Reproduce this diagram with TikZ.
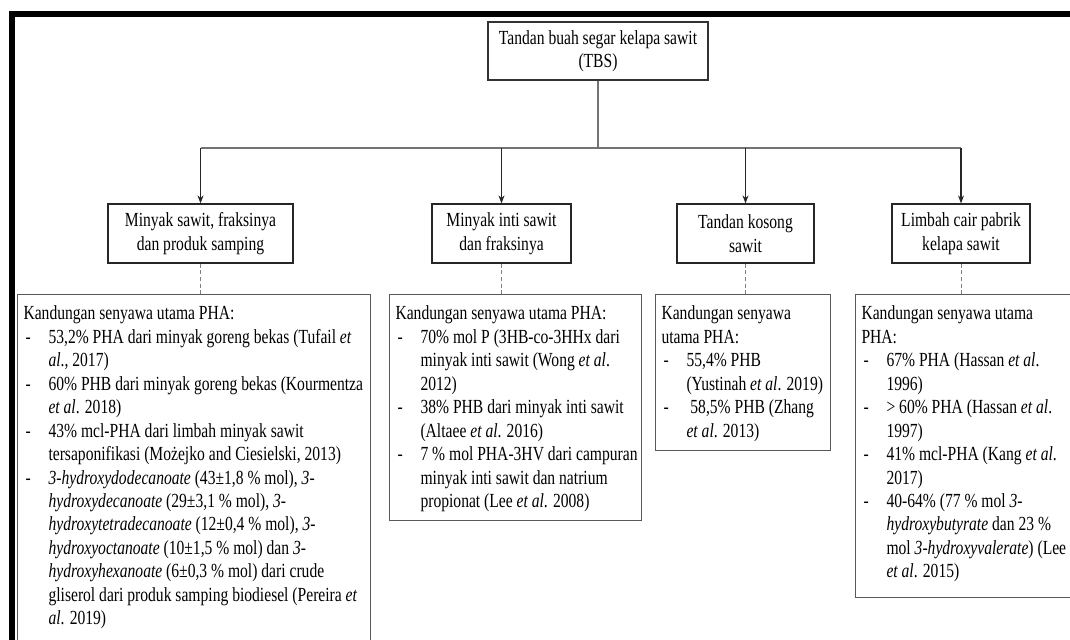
\documentclass[tikz,border=0pt]{standalone}
\usepackage{fontspec}
\setmainfont{Liberation Serif}[FakeStretch=0.78]
\usetikzlibrary{arrows.meta}
\newcommand{\bul}{\makebox[18.75pt][l]{\hspace{1.5pt}-}}
\newcommand{\cont}{\hspace*{18.75pt}}
\newcommand{\infotext}[3]{%
	\begin{minipage}[t][#2][t]{#1}%
	\raggedright\setlength{\leftskip}{4.5pt}\vspace*{8.5pt}%
	#3%
	\end{minipage}}
\tikzset{
	srcbox/.style={draw=black!80, line width=0.9pt, minimum width=165pt, minimum height=43.5pt, align=center, inner sep=2pt},
	catbox/.style={draw=black!85, line width=0.9pt, minimum height=44.25pt, align=center, inner sep=2pt},
	infobox/.style={draw=black!65, line width=0.8pt, inner sep=0pt, anchor=north west},
	link/.style={draw=black!55, line width=1.1pt},
	arrow/.style={draw=black!85, line width=0.8pt, -{Stealth[length=6pt,width=4.5pt]}},
	lead/.style={draw=black!50, line width=0.6pt, dash pattern=on 3pt off 2pt},
}
\begin{document}
\begin{tikzpicture}[x=0.75pt, y=-0.75pt, font=\fontsize{15pt}{17.6pt}\selectfont]
		\useasboundingbox (0,0) rectangle (1070,639);
		\clip (0,0) rectangle (1070,639);
		\fill[white] (0,0) rectangle (1070,639);
		\draw[line width=4.5pt, line join=miter] (12,645) -- (12,14) -- (1080,14);
		\node[srcbox] (tbs) at (598,51) {Tandan buah segar kelapa sawit\\(TBS)};
		\node[catbox, minimum width=138.75pt] (cat1) at (200.5,233.5) {Minyak sawit, fraksinya\\dan produk samping};
		\node[catbox, minimum width=104.25pt] (cat2) at (501.5,233.5) {Minyak inti sawit\\dan fraksinya};
		\node[catbox, minimum width=102.75pt] (cat3) at (745.5,233.5) {Tandan kosong\\sawit};
		\node[catbox, minimum width=103.5pt] (cat4) at (961,233.5) {Limbah cair pabrik\\kelapa sawit};
		\coordinate (hub) at (598,148);
		\draw[link] (tbs.south) -- (hub);
		\draw[link] (cat1.north |- hub) -- (cat4.north |- hub);
		\foreach \c in {cat1,cat2,cat3,cat4}
			\draw[arrow] (\c.north |- hub) -- (\c.north);
		\node[infobox] (info1) at (17,294) {\infotext{264.75pt}{270pt}{%
			Kandungan senyawa utama PHA:\\
			\bul 53,2\% PHA dari minyak goreng bekas (Tufail \textit{et}\\
			\cont\textit{al}., 2017)\\
			\bul 60\% PHB dari minyak goreng bekas (Kourmentza\\
			\cont\textit{et al}. 2018)\\
			\bul 43\% mcl-PHA dari limbah minyak sawit\\
			\cont tersaponifikasi (Możejko and Ciesielski, 2013)\\
			\bul\textit{3-hydroxydodecanoate} (43±1,8 \% mol), \textit{3-}\\
			\cont\textit{hydroxydecanoate} (29±3,1 \% mol), \textit{3-}\\
			\cont\textit{hydroxytetradecanoate} (12±0,4 \% mol), \textit{3-}\\
			\cont\textit{hydroxyoctanoate} (10±1,5 \% mol) dan \textit{3-}\\
			\cont\textit{hydroxyhexanoate} (6±0,3 \% mol) dari crude\\
			\cont gliserol dari produk samping biodiesel (Pereira \textit{et}\\
			\cont\textit{al}. 2019)}};
		\node[infobox] (info2) at (389,294) {\infotext{189pt}{169.5pt}{%
			Kandungan senyawa utama PHA:\\
			\bul 70\% mol P (3HB-co-3HHx dari\\
			\cont minyak inti sawit (Wong \textit{et al}.\\
			\cont 2012)\\
			\bul 38\% PHB dari minyak inti sawit\\
			\cont (Altaee \textit{et al}. 2016)\\
			\bul 7 \% mol PHA-3HV dari campuran\\
			\cont minyak inti sawit dan natrium\\
			\cont propionat (Lee \textit{et al}. 2008)}};
		\node[infobox] (info3) at (655,294) {\infotext{131.25pt}{117pt}{%
			Kandungan senyawa\\
			utama PHA:\\
			\bul 55,4\% PHB\\
			\cont (Yustinah \textit{et al}. 2019)\\
			\bul\ 58,5\% PHB (Zhang\\
			\cont\textit{et al}. 2013)}};
		\node[infobox] (info4) at (855,294) {\infotext{168pt}{227.25pt}{%
			Kandungan senyawa utama\\
			PHA:\\
			\bul 67\% PHA (Hassan \textit{et al}.\\
			\cont 1996)\\
			\bul > 60\% PHA (Hassan \textit{et al}.\\
			\cont 1997)\\
			\bul 41\% mcl-PHA (Kang \textit{et al}.\\
			\cont 2017)\\
			\bul 40-64\% (77 \% mol \textit{3-}\\
			\cont\textit{hydroxybutyrate} dan 23 \%\\
			\cont mol \textit{3-hydroxyvalerate}) (Lee\\
			\cont\textit{et al}. 2015)}};
		\foreach \c/\i in {cat1/info1,cat2/info2,cat3/info3,cat4/info4}
			\draw[lead] (\c.south) -- (\c.south |- \i.north);
	\end{tikzpicture}
\end{document}
